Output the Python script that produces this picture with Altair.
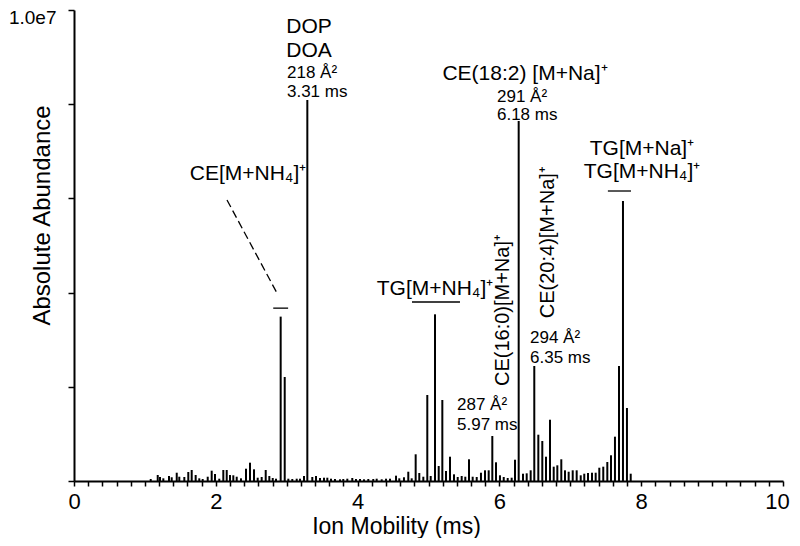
import altair as alt
import pandas as pd

# ---- data ----
mobility_ms = [
    1.082, 1.181, 1.213, 1.260, 1.340, 1.378, 1.449, 1.485, 1.556, 1.612,
    1.660, 1.716, 1.767, 1.815, 1.886, 1.942, 1.989, 2.049, 2.106, 2.154,
    2.200, 2.247, 2.295, 2.355, 2.426, 2.482, 2.539, 2.591, 2.647, 2.704,
    2.755, 2.803, 2.849, 2.915, 2.972, 3.023, 3.079, 3.141, 3.188, 3.244,
    3.291, 3.361, 3.413, 3.470, 3.526, 3.573, 3.625, 3.681, 3.752, 3.798,
    3.855, 3.925, 3.977, 4.034, 4.090, 4.151, 4.221, 4.269,
    4.340, 4.401, 4.457, 4.542, 4.588, 4.654, 4.715, 4.763, 4.819, 4.870,
    4.927, 4.983, 5.031, 5.092, 5.144, 5.195, 5.247, 5.303, 5.360, 5.412,
    5.468, 5.519, 5.571, 5.623, 5.680, 5.740, 5.797, 5.849, 5.900, 5.952,
    6.008, 6.061, 6.117, 6.173, 6.220, 6.272, 6.333, 6.385, 6.441, 6.492,
    6.549, 6.605, 6.657, 6.714, 6.766, 6.817, 6.873, 6.925, 6.977, 7.034,
    7.090, 7.147, 7.197, 7.250, 7.306, 7.358, 7.409, 7.465, 7.522, 7.574,
    7.630, 7.687, 7.743, 7.799, 7.852,
]
abundance = [
    42000, 127000, 85000, 57000, 106000, 79000, 176000, 91000, 85000, 191000,
    234000, 127000, 57000, 42000, 91000, 219000, 149000, 49000, 234000, 234000,
    127000, 121000, 91000, 57000, 261000, 389000, 248000, 70000, 85000, 234000,
    106000, 64000, 49000, 3490000, 2208000, 49000, 42000, 49000, 49000, 106000,
    8089000, 85000, 106000, 64000, 70000, 70000, 49000, 42000, 36000, 42000,
    49000, 64000, 42000, 42000, 36000, 42000, 42000, 49000,
    36000, 49000, 49000, 113000, 57000, 79000, 197000, 57000, 567000, 170000,
    91000, 1826000, 106000, 3539000, 318000, 1720000, 212000, 516000, 142000, 85000,
    106000, 91000, 461000, 91000, 85000, 176000, 227000, 227000, 955000, 397000,
    121000, 85000, 64000, 70000, 452000, 7643000, 155000, 163000, 227000, 2442000,
    983000, 849000, 516000, 1301000, 304000, 333000, 461000, 227000, 197000, 227000,
    227000, 121000, 155000, 170000, 176000, 176000, 282000, 304000, 403000, 546000,
    941000, 2442000, 5945000, 1550000, 155000,
]

# peak names (centered)
name_text = ["DOP", "DOA", "CE[M+NH\u2084]\u207a", "TG[M+NH\u2084]\u207a",
             "CE(18:2) [M+Na]\u207a", "TG[M+Na]\u207a", "TG[M+NH\u2084]\u207a"]
name_t = [3.315, 3.315, 2.454, 5.092, 6.361, 8.011, 8.011]
name_v = [9.51e6, 9.00e6, 6.39e6, 3.95e6, 8.51e6, 6.92e6, 6.43e6]

# CCS / drift time notes (left aligned)
note_text = ["218 \u00c5\u00b2", "3.31 ms", "291 \u00c5\u00b2", "6.18 ms",
             "287 \u00c5\u00b2", "5.97 ms", "294 \u00c5\u00b2", "6.35 ms"]
note_t = [3.004, 3.004, 5.966, 5.966, 5.402, 5.402, 6.432, 6.432]
note_v = [8.556e6, 8.153e6, 8.047e6, 7.665e6, 1.507e6, 1.083e6, 2.930e6, 2.505e6]

# vertical labels
vert_text = ["CE(16:0)[M+Na]\u207a", "CE(20:4)[M+Na]\u207a"]
vert_t = [6.051, 6.685]
vert_v = [3.63e6, 5.07e6]

# bracket lines
seg_t = [2.81, 4.767, 7.53]
seg_t2 = [3.02, 5.444, 7.856]
seg_v = [3.67e6, 3.80e6, 6.157e6]

dash_t = [2.158]
dash_t2 = [2.863]
dash_v = [5.966e6]
dash_v2 = [3.99e6]

x_tick_values = [round(i * 0.2, 1) for i in range(51)]
y_tick_values = [0, 2e6, 4e6, 6e6, 8e6, 1e7]

FONT = "Liberation Sans"

bars = pd.DataFrame({"t": mobility_ms, "v": abundance})
names = pd.DataFrame({"label": name_text, "t": name_t, "v": name_v})
notes = pd.DataFrame({"label": note_text, "t": note_t, "v": note_v})
verts = pd.DataFrame({"label": vert_text, "t": vert_t, "v": vert_v})
segs = pd.DataFrame({"t": seg_t, "t2": seg_t2, "v": seg_v})
dashes = pd.DataFrame({"t": dash_t, "t2": dash_t2, "v": dash_v, "v2": dash_v2})

xscale = alt.Scale(domain=[0, 10], nice=False, zero=False)
yscale = alt.Scale(domain=[0, 1e7], nice=False)

x_axis = alt.Axis(
    values=x_tick_values,
    labelExpr="datum.value % 2 === 0 ? format(datum.value, 'd') : ''",
    title="Ion Mobility (ms)",
    grid=False, domainColor="black", domainWidth=2, tickColor="black",
    tickWidth=1.5, tickSize=5, labelFont=FONT, labelFontSize=22,
    labelColor="black", labelPadding=5, labelBaseline="top", labelFlush=False,
    labelOverlap=False,
    labelOffset={"condition": {"test": "datum.value >= 10", "value": -6}, "value": 0},
    titleFont=FONT, titleFontSize=23, titleFontWeight="normal", titleColor="black",
    titleX=322, titleY=52, titleAlign="center", titleBaseline="alphabetic",
)
y_axis = alt.Axis(
    values=y_tick_values,
    labelExpr="datum.value >= 10000000 ? '1.0e7' : ''",
    title="Absolute Abundance",
    grid=False, domainColor="black", domainWidth=2, tickColor="black",
    tickWidth=1.5, tickSize=6, labelFont=FONT, labelFontSize=19,
    labelColor="black", labelPadding=12, labelOffset=7, labelFlush=False,
    labelOverlap=False,
    titleFont=FONT, titleFontSize=24, titleFontWeight="normal", titleColor="black",
    titleAngle=270, titleX=-32, titleY=205, titleAlign="center", titleBaseline="middle",
)

X = alt.X("t:Q", scale=xscale, axis=x_axis)
Y = alt.Y("v:Q", scale=yscale, axis=y_axis)

bar_layer = alt.Chart(bars).mark_rule(color="black", strokeWidth=2).encode(
    x=X, y=Y, y2=alt.datum(0)
)
seg_layer = alt.Chart(segs).mark_rule(color="black", strokeWidth=1.3).encode(
    x=X, x2="t2:Q", y=Y
)
dash_layer = alt.Chart(dashes).mark_rule(
    color="black", strokeWidth=1.3, strokeDash=[8, 4]
).encode(x=X, x2="t2:Q", y=Y, y2="v2:Q")
name_layer = alt.Chart(names).mark_text(
    font=FONT, fontSize=21, color="black", align="center", baseline="alphabetic"
).encode(x=X, y=Y, text="label:N")
note_layer = alt.Chart(notes).mark_text(
    font=FONT, fontSize=17, color="black", align="left", baseline="alphabetic"
).encode(x=X, y=Y, text="label:N")
vert_layer = alt.Chart(verts).mark_text(
    font=FONT, fontSize=20, color="black", align="center", baseline="middle", angle=270
).encode(x=X, y=Y, text="label:N")

chart = alt.layer(
    bar_layer, seg_layer, dash_layer, name_layer, note_layer, vert_layer
).properties(
    width=709,
    height=471,
    autosize=alt.AutoSizeParams(type="none"),
    padding={"left": 66, "top": 2, "right": 9, "bottom": 57},
    background="white",
).configure_view(stroke=None)

chart.save("out.html", embed_options={"renderer": "svg", "actions": False})
